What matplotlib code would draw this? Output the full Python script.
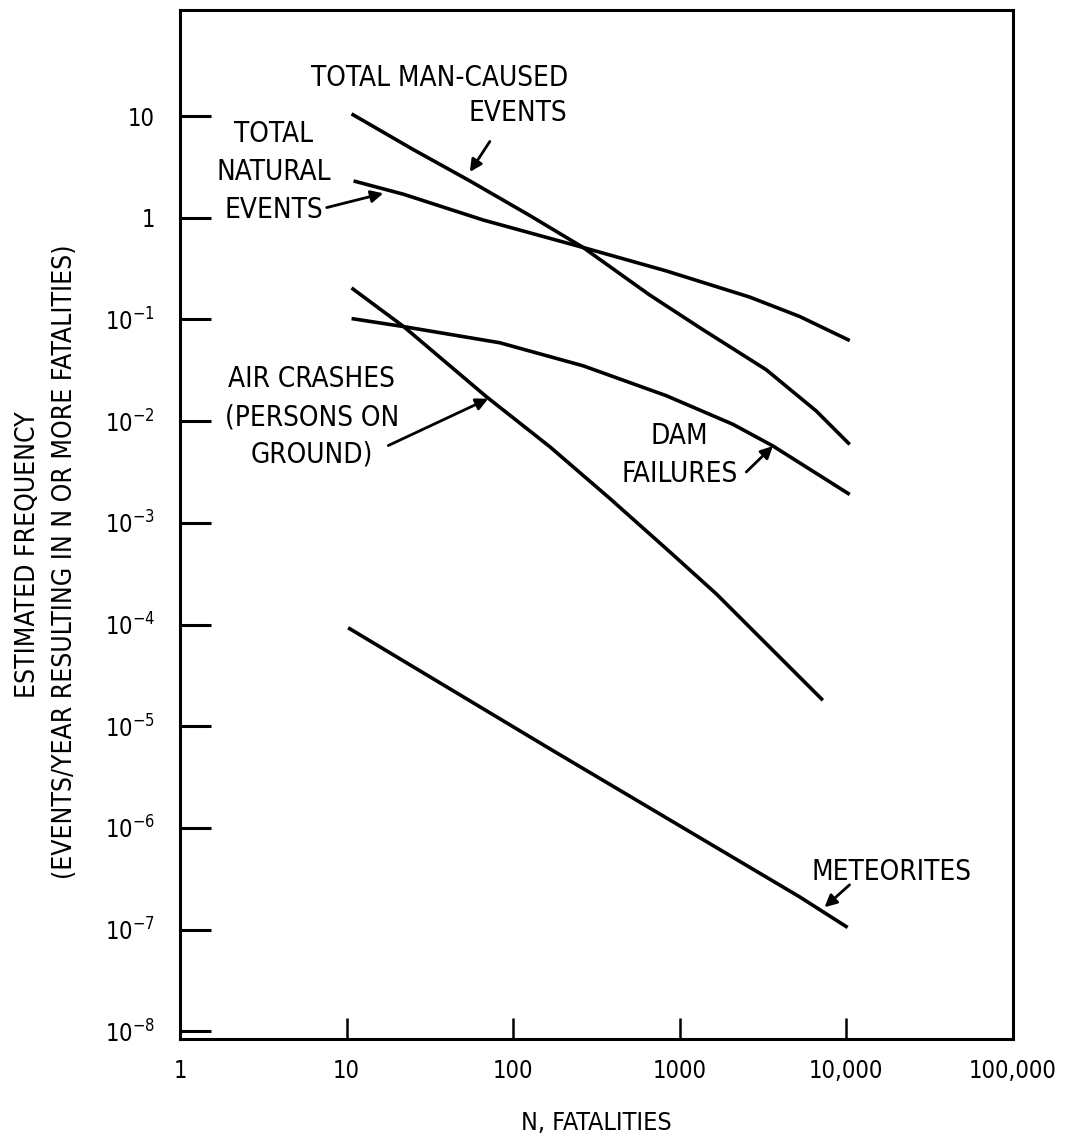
import matplotlib
matplotlib.use("Agg")
import matplotlib.pyplot as plt
from matplotlib.ticker import FixedLocator, NullLocator

plt.rcParams['font.family'] = ['Liberation Sans Narrow', 'DejaVu Sans']
plt.rcParams['font.stretch'] = 'condensed'
plt.rcParams['mathtext.fontset'] = 'custom'
plt.rcParams['mathtext.rm'] = 'DejaVu Sans:stretch=condensed'

# data (N fatalities, frequency per year)
man_x = [10.7, 25, 55, 126, 263, 660, 1320, 3310, 6600, 10500]
man_y = [10.5, 4.7, 2.3, 1.05, 0.51, 0.174, 0.083, 0.032, 0.0126, 0.0059]

nat_x = [11, 22, 66, 263, 830, 2630, 5250, 10500]
nat_y = [2.3, 1.7, 0.95, 0.51, 0.30, 0.166, 0.107, 0.062]

dam_x = [10.7, 22, 83, 263, 830, 2090, 3630, 10500]
dam_y = [0.102, 0.085, 0.059, 0.035, 0.0178, 0.0093, 0.0057, 0.0019]

air_x = [10.7, 22, 69, 166, 380, 870, 1660, 7240]
air_y = [0.204, 0.085, 0.0174, 0.0056, 0.00174, 0.00052, 0.0002, 1.8e-5]

met_x = [10.2, 166, 5250, 10200]
met_y = [9.3e-5, 6.0e-6, 2.1e-7, 1.05e-7]

xticks = [1, 10, 100, 1000, 10000, 100000]
xticklabels = ["1", "10", "100", "1000", "10,000", "100,000"]
yticks = [10, 1, 1e-1, 1e-2, 1e-3, 1e-4, 1e-5, 1e-6, 1e-7, 1e-8]
yticklabels = ["10", "1", "$10^{-1}$", "$10^{-2}$", "$10^{-3}$", "$10^{-4}$",
               "$10^{-5}$", "$10^{-6}$", "$10^{-7}$", "$10^{-8}$"]

fig = plt.figure(figsize=(10.66, 11.41), dpi=100)
ax = fig.add_axes([0.169, 0.089, 0.781, 0.902])

for xs, ys in [(man_x, man_y), (nat_x, nat_y), (dam_x, dam_y),
               (air_x, air_y), (met_x, met_y)]:
    ax.plot(xs, ys, color='black', lw=2.6, solid_capstyle='butt')

ax.set_xscale('log')
ax.set_yscale('log')
ax.set_xlim(1, 1e5)
ax.set_ylim(10 ** -8.08, 10 ** 2.04)

ax.xaxis.set_major_locator(FixedLocator(xticks))
ax.xaxis.set_minor_locator(NullLocator())
ax.set_xticklabels(xticklabels)
ax.yaxis.set_major_locator(FixedLocator(yticks))
ax.yaxis.set_minor_locator(NullLocator())
ax.set_yticklabels(yticklabels)

ax.tick_params(axis='x', direction='in', length=15, width=1.8, pad=14,
               labelsize=17)
ax.tick_params(axis='y', direction='in', length=22, width=2.2, pad=18,
               labelsize=17)
for s in ax.spines.values():
    s.set_linewidth(2.2)

ax.set_xlabel("N, FATALITIES", fontsize=18, labelpad=20)
fig.text(0.026, 0.514, "ESTIMATED FREQUENCY", rotation=90, ha='center',
         va='center', fontsize=19)
fig.text(0.061, 0.508, "(EVENTS/YEAR RESULTING IN N OR MORE FATALITIES)",
         rotation=90, ha='center', va='center', fontsize=19)

arrow = dict(arrowstyle='-|>', color='black', lw=2, mutation_scale=18,
             shrinkA=0, shrinkB=0)
lab = dict(ha='center', va='center', fontsize=20)

# labels and their arrows
ax.text(10 ** 1.56, 10 ** 1.37, "TOTAL MAN-CAUSED", **lab)
ax.text(10 ** 2.03, 10 ** 1.03, "EVENTS", **lab)
ax.annotate('', xy=(10 ** 1.74, 10 ** 0.45), xytext=(10 ** 1.86, 10 ** 0.75),
            arrowprops=arrow)

ax.text(10 ** 0.56, 10 ** 0.45, "TOTAL\nNATURAL\nEVENTS", linespacing=1.45,
        **lab)
ax.annotate('', xy=(10 ** 1.22, 10 ** 0.24), xytext=(10 ** 0.88, 10 ** 0.10),
            arrowprops=arrow)

ax.text(10 ** 0.79, 10 ** -1.96, "AIR CRASHES\n(PERSONS ON\nGROUND)",
        linespacing=1.45, **lab)
ax.annotate('', xy=(10 ** 1.85, 10 ** -1.78), xytext=(10 ** 1.25, 10 ** -2.24),
            arrowprops=arrow)

ax.text(10 ** 3.0, 10 ** -2.33, "DAM\nFAILURES", linespacing=1.45, **lab)
ax.annotate('', xy=(10 ** 3.56, 10 ** -2.245), xytext=(10 ** 3.40, 10 ** -2.50),
            arrowprops=arrow)

ax.text(10 ** 4.27, 10 ** -6.43, "METEORITES", **lab)
ax.annotate('', xy=(10 ** 3.87, 10 ** -6.78), xytext=(10 ** 4.02, 10 ** -6.56),
            arrowprops=arrow)

fig.savefig("out.png", dpi=100)
